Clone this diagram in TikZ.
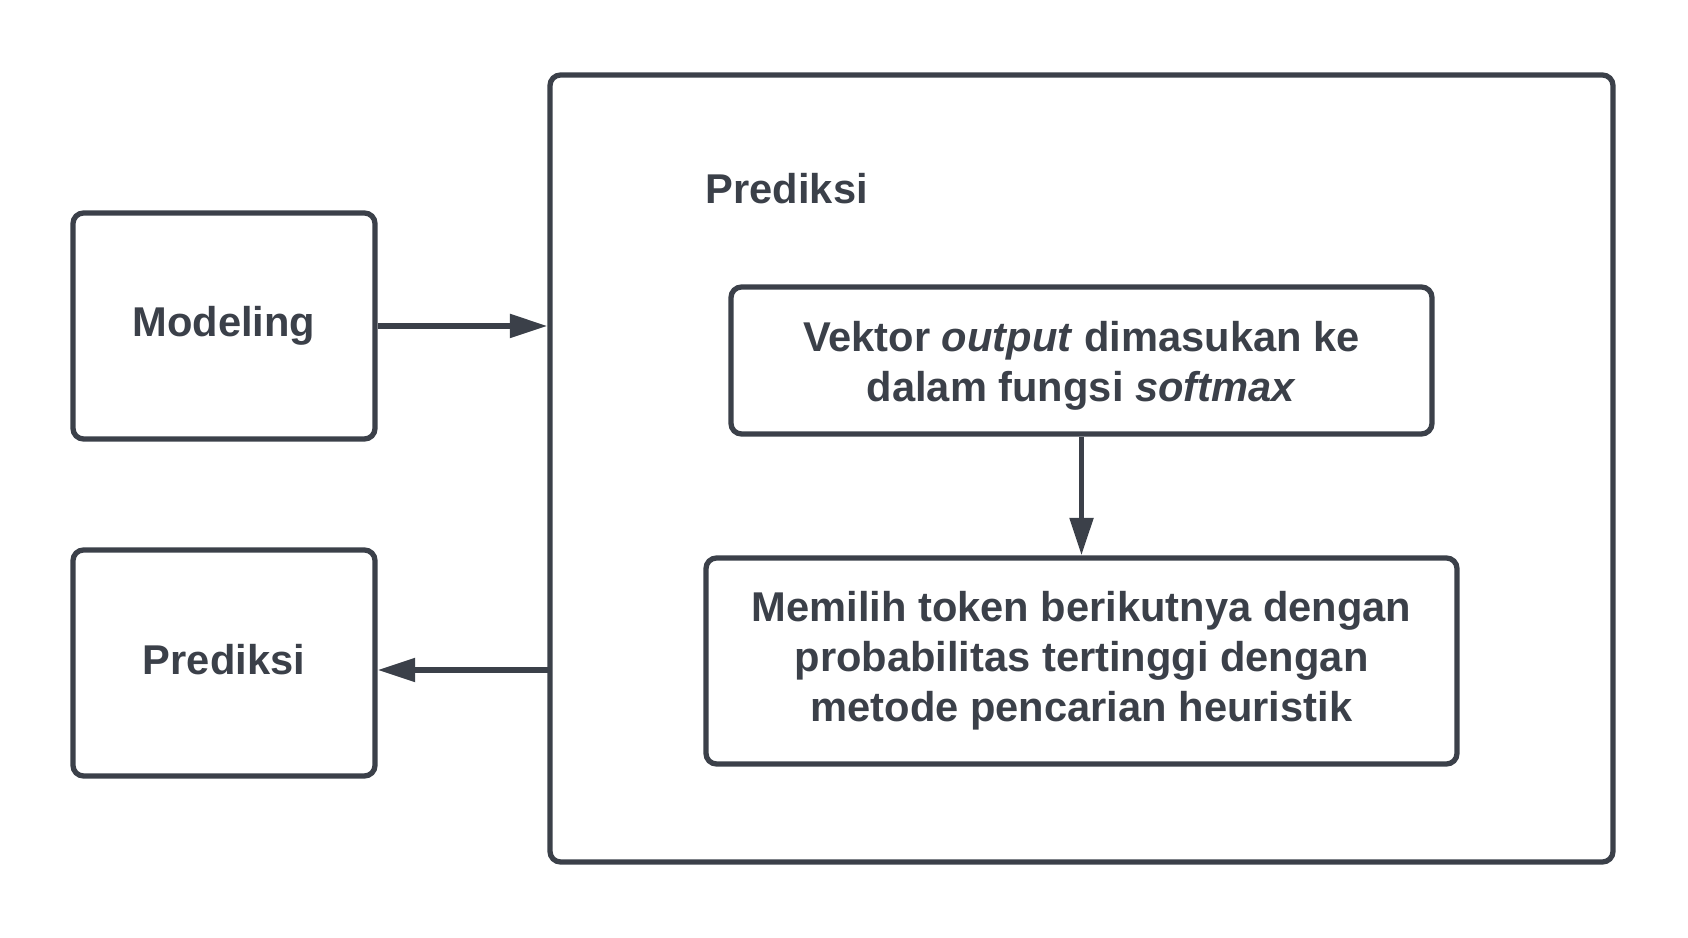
\documentclass[tikz,border=0pt]{standalone}
\usepackage{fontspec}
\setmainfont{Liberation Sans}
\usepackage{xcolor}
\usepackage{tikz}
\usetikzlibrary{positioning,arrows.meta}
\definecolor{mSlate}{HTML}{3B4049}

\begin{document}
\begin{tikzpicture}[font=\fontsize{23.7}{28.5}\selectfont\bfseries, text=mSlate,
  box/.style={draw=mSlate, line width=3pt, rounded corners=6pt, align=center, inner sep=0pt},
  flow/.style={-{Triangle[length=7.5mm, width=4.6mm]}, draw=mSlate, line width=3pt}]
\useasboundingbox (0,0) rectangle (33.76,18.76);
% kiri
\node[box, minimum width=6.04cm, minimum height=4.52cm] (model) at (4.48,12.24) {Modeling};
\node[box, minimum width=6.04cm, minimum height=4.52cm] (hasil) at (4.48,5.5) {\raisebox{0.06cm}[\height][\depth]{Prediksi}};
% kotak besar
\node[box, minimum width=21.26cm, minimum height=15.74cm] (pred) at (21.63,9.39) {};
\node[anchor=west] (judul) at (13.99,14.98) {Prediksi};
\node[box, minimum width=14.02cm, minimum height=2.94cm] (softmax) at (21.63,11.55) {\raisebox{-0.11cm}[\height][\depth]{Vektor \textit{output} dimasukan ke}\\ \raisebox{-0.11cm}[\height][\depth]{dalam fungsi \textit{softmax}}};
\node[box, minimum width=15.02cm, minimum height=4.12cm] (pilih) at (21.63,5.54) {Memilih token berikutnya dengan\\ probabilitas tertinggi dengan\\ metode pencarian heuristik};
\coordinate (keluar) at (11.0,5.36);
\draw[flow] (model.east) -- (model.east -| pred.west);
\draw[flow] (softmax.south) -- (pilih.north);
\draw[flow] (keluar) -- (keluar -| hasil.east);
\end{tikzpicture}
\end{document}
